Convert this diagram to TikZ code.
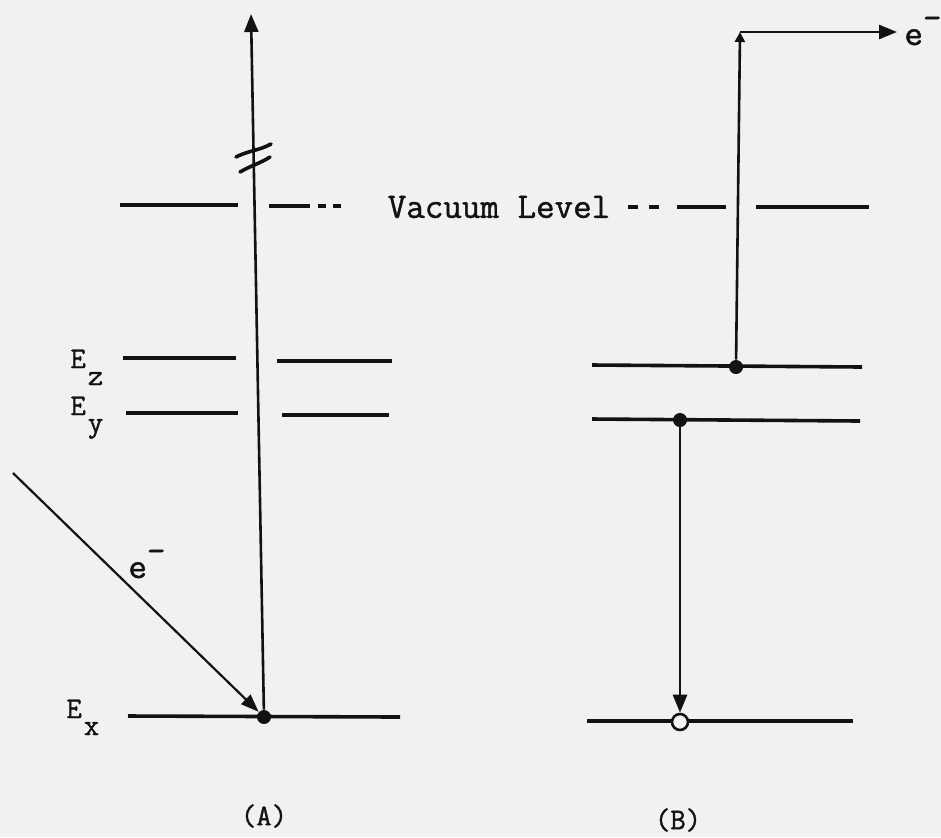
\documentclass[tikz,border=0pt]{standalone}
\usepackage{fontspec}
\setmonofont[FakeBold=1.2]{Latin Modern Mono}
\usetikzlibrary{arrows.meta}
\definecolor{paper}{RGB}{241,241,239}
\definecolor{ink}{RGB}{18,18,18}
\begin{document}
\begin{tikzpicture}[x=0.5pt,y=-0.5pt,
  level/.style={draw=ink, line width=1.8pt},
  conn/.style={draw=ink, line width=1.3pt, -{Triangle[length=9pt,width=7pt]}},
  inc/.style={draw=ink, line width=1.1pt, -{Triangle[length=9pt,width=6.5pt]}},
  brk/.style={draw=ink, line width=1.8pt, line cap=round},
  tt/.style={font=\ttfamily\bfseries\fontsize{15}{17}\selectfont, text=ink, inner sep=0pt},
  vac/.style={font=\ttfamily\bfseries\fontsize{18}{20}\selectfont, text=ink, inner sep=0pt},
  full/.style={circle, fill=ink, inner sep=0pt, minimum size=7pt},
  hole/.style={circle, draw=ink, fill=paper, line width=1.3pt, inner sep=0pt, minimum size=8pt}
]
\fill[paper] (0,0) rectangle (941,837);
\useasboundingbox (0,0) rectangle (941,837);

% ---------- Vacuum level ----------
\draw[level] (120,205) -- (238,205);
\draw[level] (269,206) -- (310,206);
\draw[level] (318,206) -- (326,206);
\draw[level] (333,206) -- (341,206);
\node[vac] (vac) at (499,207) {Vacuum Level};
\draw[level] (628,207) -- (638,207);
\draw[level] (649,207) -- (659,207);
\draw[level] (677,207) -- (726,207);
\draw[level] (756,207) -- (869,207);

% ---------- Panel A levels ----------
\draw[level] (123,358) -- (236,358);
\draw[level] (277,361) -- (392,361);
\draw[level] (126,413) -- (238,413);
\draw[level] (282,415) -- (389,415);
\draw[level] (128,716) -- (400,717);

\node[tt, anchor=base west] (Ez) at (70,368) {E\kern1pt\raisebox{-8.5pt}{z}};
\node[tt, anchor=base west] (Ey) at (70,415) {E\kern1pt\raisebox{-8.5pt}{y}};
\node[tt, anchor=base west] (Ex) at (66,718) {E\kern1pt\raisebox{-8.5pt}{x}};

\node[full] (dA) at (264,717) {};
\coordinate (topA) at (251,14);
\draw[conn] (dA) -- (topA);
% break mark
\draw[brk] (236,157) .. controls (250,150) and (258,151) .. (271,144);
\draw[brk] (240,172) .. controls (252,165) and (259,164) .. (270,157);

\coordinate (incS) at (13,473);
\draw[inc] (incS) -- (dA);
\node[vac, anchor=base west] (eA) at (128,578) {e\raisebox{8pt}{-}};

\node[tt] (labA) at (264,816) {(A)};

% ---------- Panel B levels ----------
\draw[level] (592,365) -- (862,367);
\draw[level] (592,419) -- (860,421);
\draw[level] (587,721) -- (853,721);

\node[full] (dBz) at (736,367) {};
\node[full] (dBy) at (680,420) {};
\node[hole] (hB) at (680,722) {};

\draw[conn] (dBy) -- (hB);
\coordinate (cornerB) at (740,32);
\coordinate (outB) at (897,32);
\draw[conn, -{Triangle[length=5pt,width=5pt]}] (dBz) -- (cornerB);
\draw[conn] (cornerB) -- (outB);
\node[vac, anchor=base west] (eB) at (904,45) {e\raisebox{8pt}{-}};

\node[tt] (labB) at (678,820) {(B)};
\end{tikzpicture}
\end{document}
